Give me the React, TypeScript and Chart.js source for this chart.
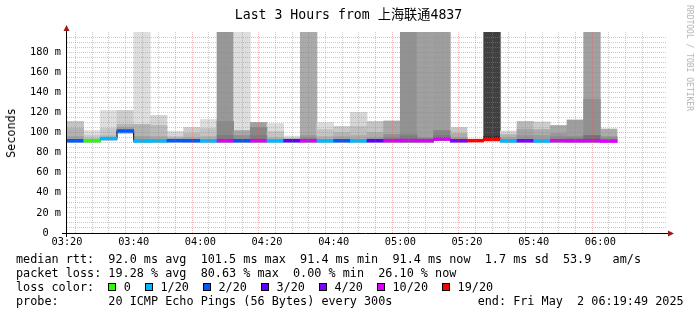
import React, { useEffect, useRef } from 'react';
import Chart from 'chart.js/auto';

// ---------- data ----------
const titleText = 'Last 3 Hours from 上海联通4837';
const xTickLabels = ['03:20', '03:40', '04:00', '04:20', '04:40', '05:00', '05:20', '05:40', '06:00'];
const stepMinutes = 5;
const spanMinutes = 180;
const yMaxMs = 200;

// median rtt per 5-minute step (ms)
const medianMs = [91.8, 91.9, 94.0, 101.5, 91.6, 91.7, 91.9, 91.8, 91.7, 91.9, 91.8, 91.9, 91.7, 91.8, 91.9, 91.7,
  91.8, 91.7, 91.8, 91.9, 92.0, 91.9, 93.5, 91.8, 91.9, 93.0, 91.7, 91.8, 91.6, 91.9, 91.8, 91.9, 91.4];
// lost pings out of 20 per step
const lossCount = [2, 0, 1, 2, 1, 1, 2, 2, 1, 10, 2, 10, 1, 3, 10, 1, 2, 1, 3, 10, 10, 10, 10, 4, 19, 19, 1, 4, 1, 10, 10, 10, 10];
// smoke: lowest ping, band tops (ms) and band densities (gray level)
const smokeLow = [90.5, 90.5, 92.5, 99.5, 90.5, 90.5, 90.5, 90.5, 90.5, 90.5, 90.5, 90.5, 90.5, 90.5, 90.5, 90.5,
  90.5, 90.5, 90.5, 90.5, 90.5, 90.5, 92.0, 90.5, null, 92.0, 90.5, 90.5, 90.5, 90.5, 90.5, 90.5, 90.5];
const smokeMax = [111, 102, 122, 122, 260, 117, 101, 105, 113, 260, 260, 110, 109, 96.5, 260, 110,
  106, 120, 111, 111.5, 260, 260, 260, 105, null, 260, 101.5, 111, 110.5, 107, 112.5, 260, 103.5];
const smokeMaxGray = [196, 222, 222, 205, 222, 212, 214, 204, 222, 152, 222, 160, 220, 218, 170, 220,
  200, 214, 196, 168, 146, 160, 158, 198, 0, 64, 214, 184, 205, 168, 158, 160, 172];
const smokeMid = [104, 97, 104, 108, 108, 107, 96, 99, 104, 111, 102, 105, 101, 94, 97, 103,
  100, 106, 100, 98, 98, 95, 102, 99, null, 96, 98, 103, 103, 99, 96, 133, 96];
const smokeMidGray = [178, 200, 200, 180, 178, 186, 190, 184, 196, 138, 168, 136, 196, 184, 152, 196,
  180, 192, 172, 144, 132, 144, 134, 172, 0, 48, 180, 164, 172, 152, 144, 144, 152];
const smokeInner = [96, 94, 97, 105, 96, 96, 94, 95, 96, 97, 97, 97, 95, 93.5, 95, 96,
  96, 97, 95, 95, 96, 94, 97, 95, null, 95, 95, 97, 97, 96, 95, 97, 95];
const smokeInnerGray = [160, 184, 184, 160, 160, 168, 176, 168, 176, 124, 144, 124, 176, 168, 140, 176,
  164, 172, 156, 132, 120, 132, 122, 156, 0, 40, 164, 150, 156, 140, 132, 112, 140];

const legendLoss = [0, 1, 2, 3, 4, 10, 19];
const legendLossLabels = ['0', '1/20', '2/20', '3/20', '4/20', '10/20', '19/20'];
const lossColors: Record<number, string> = {
  0: '#26ff00', 1: '#00b8ff', 2: '#0059ff', 3: '#5e00ff', 4: '#7e00ff', 10: '#dd00ff', 19: '#ff0000',
};

const line1 = 'median rtt:  92.0 ms avg  101.5 ms max  91.4 ms min  91.4 ms now  1.7 ms sd  53.9   am/s';
const line2 = 'packet loss: 19.28 % avg  80.63 % max  0.00 % min  26.10 % now';
const line3Head = 'loss color:  ';
const line4 = 'probe:       20 ICMP Echo Pings (56 Bytes) every 300s            end: Fri May  2 06:19:49 2025';
const yUnitLabel = 'Seconds';
const watermark = 'RRDTOOL / TOBI OETIKER';

// ---------- chart ----------
const MONO = '"DejaVu Sans Mono", "Noto Sans CJK SC", monospace';
const gray = (g: number) => `rgb(${g},${g},${g})`;
const centers = medianMs.map((_, i) => i * stepMinutes + stepMinutes / 2);
const band = (lo: (number | null)[], hi: (number | null)[]) =>
  centers.map((x, i) => ({ x, y: hi[i] == null || lo[i] == null ? null : [lo[i] as number, hi[i] as number] }));

const MAJOR = 'rgba(225,90,90,0.4)';
const MINOR = 'rgba(140,140,140,0.45)';

const barCommon = {
  type: 'bar' as const,
  grouped: false,
  barPercentage: 1,
  categoryPercentage: 1,
  borderWidth: 0,
  borderSkipped: false,
};

const axesPlugin = {
  id: 'rrdAxes',
  afterDraw(chart: any) {
    const { ctx, chartArea: a } = chart;
    ctx.save();
    ctx.strokeStyle = '#000';
    ctx.lineWidth = 1;
    ctx.beginPath();
    ctx.moveTo(a.left - 5, a.bottom + 0.5);
    ctx.lineTo(a.right + 2, a.bottom + 0.5);
    ctx.moveTo(a.left - 0.5, a.bottom + 4);
    ctx.lineTo(a.left - 0.5, a.top - 2);
    ctx.stroke();
    ctx.fillStyle = '#a01818';
    ctx.beginPath();
    ctx.moveTo(a.left - 0.5, a.top - 7);
    ctx.lineTo(a.left - 3.5, a.top - 1);
    ctx.lineTo(a.left + 2.5, a.top - 1);
    ctx.closePath();
    ctx.fill();
    ctx.beginPath();
    ctx.moveTo(a.right + 7, a.bottom + 0.5);
    ctx.lineTo(a.right + 1, a.bottom - 2.5);
    ctx.lineTo(a.right + 1, a.bottom + 3.5);
    ctx.closePath();
    ctx.fill();
    ctx.restore();
  },
};

const gridColor = (limit: number) => (c: any) => {
  const v = c.tick ? c.tick.value : 0;
  if (v <= 0 || v >= limit) return 'rgba(0,0,0,0)';
  return v % 20 === 0 ? MAJOR : MINOR;
};

export default function App() {
  const ref = useRef<HTMLCanvasElement>(null);
  useEffect(() => {
    document.body.style.margin = '0';
    const stepPts = medianMs.map((m, i) => ({ x: i * stepMinutes, y: m }));
    stepPts.push({ x: medianMs.length * stepMinutes, y: medianMs[medianMs.length - 1] });
    const chart = new Chart(ref.current as HTMLCanvasElement, {
      type: 'bar',
      data: {
        datasets: [
          { ...barCommon, order: 5, data: band(smokeLow, smokeMax), backgroundColor: smokeMaxGray.map(gray) },
          { ...barCommon, order: 4, data: band(smokeLow, smokeMid), backgroundColor: smokeMidGray.map(gray) },
          { ...barCommon, order: 3, data: band(smokeLow, smokeInner), backgroundColor: smokeInnerGray.map(gray) },
          {
            type: 'line', order: 2, data: stepPts, stepped: true, borderColor: '#000', borderWidth: 1,
            pointRadius: 0, fill: false,
          } as any,
          {
            ...barCommon, order: 1,
            data: centers.map((x, i) => ({ x, y: [medianMs[i] - 1.4, medianMs[i] + 1.4] })),
            backgroundColor: lossCount.map((c) => lossColors[c]),
          },
        ],
      } as any,
      options: {
        animation: false,
        responsive: false,
        maintainAspectRatio: false,
        events: [],
        layout: { padding: { left: 0, right: 30, top: 32, bottom: 62 } },
        plugins: { legend: { display: false }, tooltip: { enabled: false }, title: { display: false } },
        scales: {
          x: {
            type: 'linear',
            min: 0,
            max: spanMinutes,
            offset: false,
            afterFit: (s: any) => { s.height = 20; },
            ticks: {
              stepSize: stepMinutes,
              autoSkip: false,
              maxRotation: 0,
              minRotation: 0,
              maxTicksLimit: 1000,
              padding: 3,
              color: '#000',
              font: { family: MONO, size: 10.3 },
              callback: (v: any) => (v % 20 === 0 && v < spanMinutes ? xTickLabels[v / 20] : ''),
            },
            grid: {
              z: 1,
              drawTicks: false,
              lineWidth: 1,
              borderDash: [1, 1],
              color: gridColor(spanMinutes),
            },
            border: { display: false, dash: [1, 1] },
          },
          y: {
            type: 'linear',
            min: 0,
            max: yMaxMs,
            afterFit: (s: any) => { s.width = 67; },
            ticks: {
              stepSize: 5,
              autoSkip: false,
              maxTicksLimit: 1000,
              padding: 6,
              color: '#000',
              font: { family: MONO, size: 10.3 },
              callback: (v: any) => (v % 20 === 0 && v < yMaxMs ? (v === 0 ? '0  ' : `${v} m`) : ''),
            },
            grid: {
              z: 1,
              drawTicks: false,
              lineWidth: 1,
              borderDash: [1, 1],
              color: gridColor(yMaxMs),
            },
            border: { display: false, dash: [1, 1] },
          },
        },
      } as any,
      plugins: [axesPlugin],
    });
    return () => chart.destroy();
  }, []);

  const legendText: React.CSSProperties = {
    position: 'absolute', left: 16, fontFamily: MONO, fontSize: 11.8, lineHeight: '14px',
    whiteSpace: 'pre', color: '#000',
  };

  return (
    <div style={{ position: 'absolute', left: 0, top: 0, width: 697, height: 315, background: '#fff', overflow: 'hidden' }}>
      <canvas ref={ref} width={697} height={315} style={{ position: 'absolute', left: 0, top: 0, width: 697, height: 315 }} />
      <div style={{ position: 'absolute', left: 0, top: 6.5, width: 697, textAlign: 'center', fontFamily: MONO, fontSize: 13.2, lineHeight: '16px', whiteSpace: 'pre', color: '#000' }}>
        {titleText}
      </div>
      <div style={{ position: 'absolute', left: 11, top: 132.5, transform: 'translate(-50%, -50%) rotate(-90deg)', fontFamily: MONO, fontSize: 11.8, lineHeight: '14px', whiteSpace: 'pre', color: '#000' }}>
        {yUnitLabel}
      </div>
      <div style={{ position: 'absolute', left: 689, top: 58, transform: 'translate(-50%, -50%) rotate(90deg)', fontFamily: MONO, fontSize: 8, lineHeight: '10px', whiteSpace: 'pre', color: '#b4b4b4' }}>
        {watermark}
      </div>
      <div style={{ ...legendText, top: 252 }}>{line1}</div>
      <div style={{ ...legendText, top: 265.9 }}>{line2}</div>
      <div style={{ ...legendText, top: 279.8 }}>
        {line3Head}
        {legendLoss.map((c, i) => (
          <span key={c}>
            <span style={{ display: 'inline-block', width: 8, height: 8, boxSizing: 'border-box', border: '1px solid #000', background: lossColors[c], marginRight: 7.4, verticalAlign: 'baseline' }} />
            {legendLossLabels[i] + (i < legendLoss.length - 1 ? '  ' : '')}
          </span>
        ))}
      </div>
      <div style={{ ...legendText, top: 293.7 }}>{line4}</div>
    </div>
  );
}
